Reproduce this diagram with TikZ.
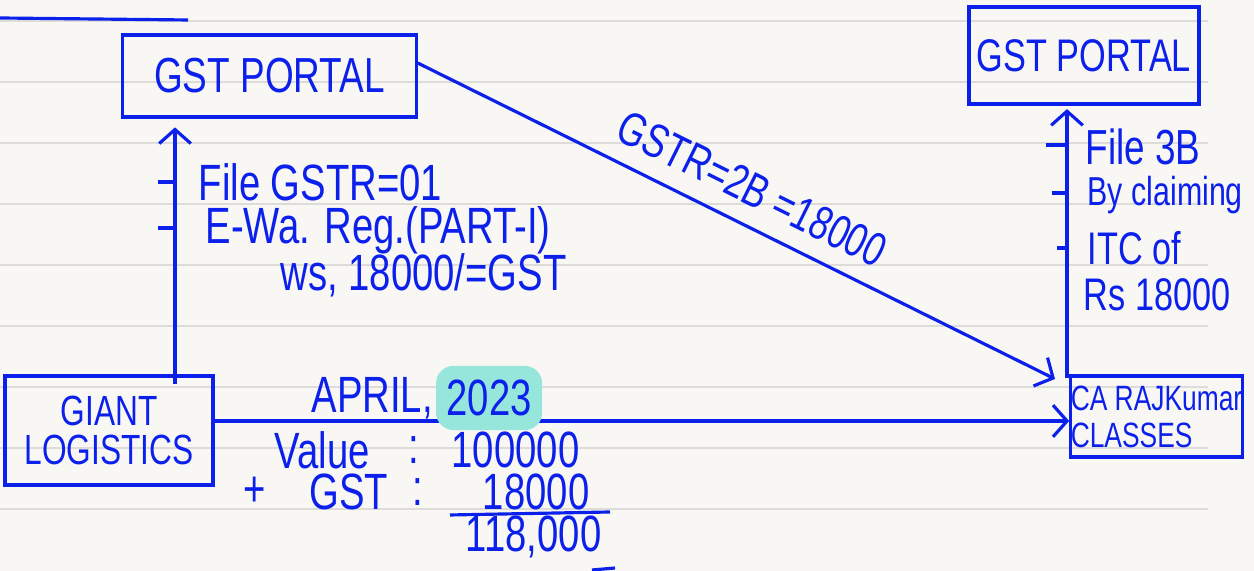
\documentclass[tikz,border=0pt]{standalone}
\usepackage{fontspec}
\newfontfamily\hand[FakeStretch=0.75]{Liberation Sans}
\usetikzlibrary{arrows.meta,positioning}
\definecolor{ink}{RGB}{12,32,236}
\definecolor{paper}{RGB}{249,247,243}
\definecolor{ruling}{RGB}{222,220,216}
\definecolor{marker}{RGB}{150,230,220}
\tikzset{
  portal/.style={draw=ink,line width=0.9pt,inner sep=0pt,text=ink,
    minimum width=2.93cm,minimum height=0.82cm,font=\hand\fontsize{14}{16}\selectfont},
  note/.style={text=ink,anchor=west,inner sep=0pt,font=\hand\fontsize{14.5}{16}\selectfont},
  smallnote/.style={note,font=\hand\fontsize{13}{15}\selectfont},
  tickmark/.style={ink,line width=0.9pt},
  flow/.style={ink,line width=0.9pt,-{Straight Barb[length=4pt,width=9pt]}},
}

\begin{document}
\begin{tikzpicture}[x=0.01cm,y=-0.01cm]
\useasboundingbox (0,0) rectangle (1254,571);
\fill[paper] (0,0) rectangle (1254,571);
\foreach \y in {21,82,...,509}
  \draw[ruling,line width=0.5pt] (0,\y) -- (1208,\y);
\draw[ink,line width=0.9pt] (0,18) -- (188,20);

% boxes
\node[portal] (lportal) at (269.5,76) {GST PORTAL};
\node[portal,minimum width=2.30cm,minimum height=0.97cm,
  font=\hand\fontsize{13}{15}\selectfont] (rportal) at (1084,55.5) {GST PORTAL};
\node[portal,minimum width=2.08cm,minimum height=1.09cm,align=center,
  font=\hand\fontsize{12}{11}\selectfont] (giant) at (109,430.5) {GIANT\\LOGISTICS};
\node[portal,minimum width=1.67cm,minimum height=0.81cm,align=left,
  font=\hand\fontsize{10}{10.5}\selectfont] (ca) at (1156.5,416.5) {CA RAJKumar\\CLASSES};

% giant logistics -> portal
\coordinate (lbase) at (175,384);
\draw[flow,shorten >=2.5pt] (lbase) -- (lbase |- lportal.south);
\foreach \y in {182,228}
  \draw[tickmark] (158,\y) -- (175,\y);
\node[note] (file01) at (198,182) {File GSTR=01};
\node[note] (ewayreg) at (205,230) {E-Wa. Reg.(PART-I)};
\node[note] (withgst) at (280,275) {ws, 18000/=GST};

% portal -> ca rajkumar classes
\coordinate (catip) at (1055,379);
\draw[flow] ([yshift=3.7pt]lportal.east) -- node[note,anchor=south,sloped,pos=0.5,yshift=5pt,
  font=\hand\fontsize{13.5}{15}\selectfont] (gstr2b) {GSTR=2B =18000} (catip);

% ca rajkumar classes -> portal
\coordinate (rbase) at (1067,378);
\draw[flow,shorten >=1pt] (rbase) -- (rbase |- rportal.south);
\draw[tickmark] (1046,145) -- (1067,145);
\draw[tickmark] (1052,193) -- (1067,193);
\draw[tickmark] (1057,248) -- (1068,248);
\node[smallnote,font=\hand\fontsize{14}{15}\selectfont] (file3b) at (1085,147) {File 3B};
\node[smallnote,font=\hand\fontsize{11.5}{13}\selectfont] (claim) at (1087,195) {By claiming};
\node[smallnote] (itc) at (1087,248) {ITC of};
\node[smallnote] (rs) at (1083,295) {Rs 18000};

% sale
\draw[flow] ([yshift=2.7pt]giant.east) -- ([yshift=2.7pt]giant.east -| ca.west);
\node[note] (april) at (311,398) {APRIL,};
\node[note,fill=marker,rounded corners=5pt,inner xsep=3pt,inner ysep=4pt,
  right=0.5pt of april] (year) {2023};
\node[note] (value) at (274,450) {Value};
\node[note] (vcolon) at (408,450) {:};
\node[note,anchor=east] (vamt) at (580,450) {100000};
\node[note] (plus) at (243,492) {+};
\node[note] (gst) at (309,492) {GST};
\node[note] (gcolon) at (412,492) {:};
\node[note,anchor=east] (gamt) at (590,492) {18000};
\draw[ink,line width=0.9pt] (450,515) -- (610,512);
\node[note,anchor=east] (total) at (602,537) {118,000};
\draw[ink,line width=0.9pt] (592,570) -- (615,568);
\end{tikzpicture}
\end{document}
